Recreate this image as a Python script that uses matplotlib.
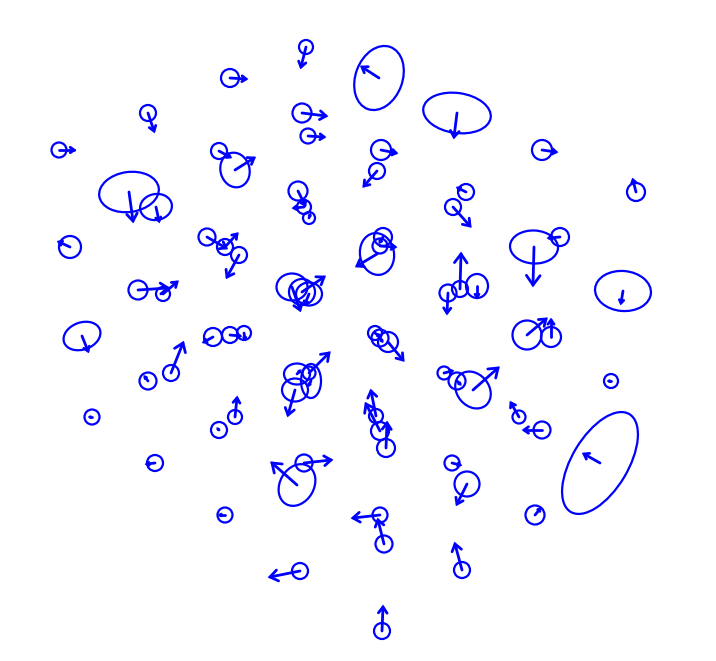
import matplotlib
matplotlib.use("Agg")
import matplotlib.pyplot as plt
from matplotlib.patches import Ellipse
import numpy as np

# station positions (pixel-like plot units, y downward)
x = [306, 230, 379, 457, 148, 302, 308, 59, 219, 235,
     129, 156, 381, 377, 542, 466, 453, 636, 298, 304,
     309, 383, 380, 377, 292, 302, 309, 70, 207, 225,
     239, 138, 163, 82, 148, 171, 213, 230, 244, 92,
     219, 235, 297, 311, 295, 309, 375, 380, 388, 376,
     380, 386, 155, 225, 297, 304, 300, 452, 467, 380,
     384, 462, 535, 600, 382, 448, 460, 477, 534, 560,
     527, 551, 623, 611, 444, 457, 473, 519, 542]
y = [47, 78, 78, 113, 113, 113, 136, 150, 151, 170,
     192, 207, 150, 171, 150, 192, 207, 192, 191, 207,
     218, 237, 246, 254, 287, 292, 294, 247, 237, 247,
     255, 290, 294, 336, 381, 373, 337, 335, 333, 417,
     430, 417, 374, 381, 390, 373, 333, 338, 342, 416,
     431, 448, 463, 515, 485, 463, 571, 463, 484, 515,
     544, 570, 515, 463, 631, 293, 289, 286, 247, 237,
     335, 337, 291, 381, 373, 381, 390, 417, 430]
# velocity vectors
u = [-5, 16, -17, -3, 6, 24, 16, 15, 11, 19,
     4, 3, 15, -13, 14, -8, 17, -3, 7, -10,
     1, -3, 15, -20, 8, 22, -4, -11, 19, 12,
     -12, 30, 14, 6, -3, 12, -9, 10, 1, -2,
     -1, 2, 3, -2, -7, 20, 4, 2, 15, -5,
     -14, 1, -8, -5, -25, 27, -30, 8, -10, -27,
     -6, -7, 5, -16, 1, -1, 1, 0, -1, -11,
     19, 0, -2, -2, 8, 3, 25, -8, -18]
v = [20, 1, -11, 24, 18, 3, 1, 0, 6, -12,
     29, 14, 3, 15, 2, -4, 19, -12, 14, 1,
     -3, 5, 1, 12, 23, -15, 10, -5, 11, -13,
     22, -2, -12, 15, -4, -30, 5, 1, 6, 0,
     -1, -19, -3, 4, 25, -20, 3, 3, 18, -25,
     -27, -25, 1, 0, -22, -3, 6, 2, 20, 3,
     -24, -26, -6, -9, -24, 20, -35, 11, 38, 1,
     -16, -17, 12, 0, -2, 3, -22, -14, 0]
# error ellipses: full width, full height, rotation (deg, counter-clockwise on screen)
ew = [14, 18, 66, 68, 16, 19, 15, 15, 16, 35,
      60, 32, 20, 16, 20, 16, 16, 18, 19, 14,
      12, 18, 15, 42, 31, 26, 26, 22, 17, 16,
      16, 19, 14, 38, 17, 16, 18, 16, 14, 15,
      16, 14, 26, 20, 26, 13, 14, 17, 20, 14,
      18, 18, 16, 15, 44, 17, 16, 15, 25, 15,
      17, 16, 19, 114, 16, 17, 16, 22, 48, 18,
      29, 20, 56, 14, 13, 17, 40, 13, 17]
eh = [14, 18, 47, 40, 16, 19, 15, 15, 16, 29,
      40, 26, 20, 16, 20, 16, 16, 18, 19, 14,
      12, 18, 15, 34, 27, 26, 23, 22, 17, 16,
      16, 19, 14, 27, 17, 16, 18, 16, 14, 15,
      16, 14, 21, 34, 23, 13, 14, 17, 20, 14,
      18, 18, 16, 15, 34, 17, 16, 15, 25, 15,
      17, 16, 19, 56, 16, 17, 16, 24, 33, 18,
      29, 20, 40, 14, 13, 17, 32, 13, 17]
ea = [0, 0, 70, -8, 0, 0, 0, 0, 0, 105,
      8, 10, 0, 0, 0, 0, 0, 0, 0, 0,
      0, 0, 0, 100, 0, 0, 0, 0, 0, 0,
      0, 0, 0, 20, 0, 0, 0, 0, 0, 0,
      0, 0, 0, 0, 0, 0, 0, 0, 0, 0,
      0, 0, 0, 0, 60, 0, 0, 0, 0, 0,
      0, 0, 0, 59, 0, 0, 0, 0, -3, 0,
      0, 0, -5, 0, 0, 0, -50, 0, 0]

HEAD_LEN = 0.25   # arrowhead length as fraction of vector length
HEAD_WID = 0.18   # arrowhead half-width as fraction of vector length

fig = plt.figure(figsize=(7.16, 6.61), dpi=100)
ax = fig.add_axes([0, 0, 1, 1])
ax.set_xlim(0, 716)
ax.set_ylim(661, 0)
ax.axis("off")

for xi, yi, ui, vi, w, h, a in zip(x, y, u, v, ew, eh, ea):
    ax.add_patch(Ellipse((xi, yi), w, h, angle=-a, fill=False,
                         edgecolor="blue", linewidth=1.6))
    tx, ty = xi + ui, yi + vi
    # shaft
    ax.plot([xi, tx], [yi, ty], color="blue", lw=2.0, solid_capstyle="round")
    # head (scaled with vector length)
    bx, by = tx - HEAD_LEN * ui, ty - HEAD_LEN * vi
    px, py = -vi * HEAD_WID, ui * HEAD_WID
    ax.plot([bx + px, tx, bx - px], [by + py, ty, by - py], color="blue",
            lw=2.0, solid_capstyle="round", solid_joinstyle="miter")

fig.savefig("out.png", dpi=100)
